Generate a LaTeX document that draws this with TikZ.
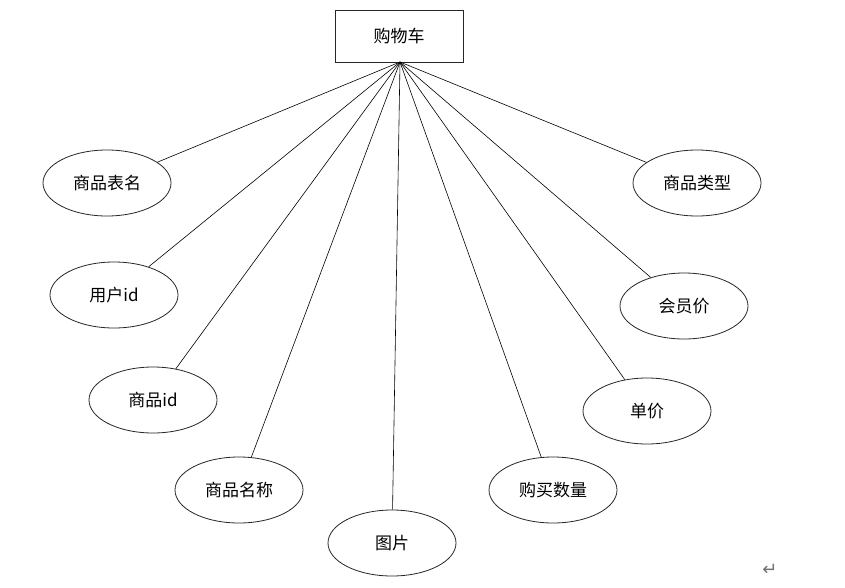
\documentclass[tikz,border=0pt]{standalone}
\usepackage{fontspec}
\usetikzlibrary{shapes.geometric}
\newfontfamily\cjk{Noto Sans CJK SC}
\newfontfamily\symfont{DejaVu Sans}
\begin{document}
\begin{tikzpicture}[x=1pt,y=-1pt,
  attr/.style={draw=black!85, ellipse, minimum width=128pt, minimum height=66pt, inner sep=0pt, line width=0.8pt, font=\cjk\fontsize{17}{20}\selectfont},
  ent/.style={draw=black!85, rectangle, minimum width=128pt, minimum height=52pt, inner sep=0pt, line width=0.9pt, font=\cjk\fontsize{17}{20}\selectfont},
  link/.style={draw=black, line width=0.6pt}]
\useasboundingbox (0,0) rectangle (845,588);
\node[ent] (cart) at (399,36) {购物车};
\coordinate (apex) at (400,62);
\node[attr] (a1) at (107,183) {商品表名};
\node[attr] (a2) at (114,295) {用户id};
\node[attr] (a3) at (153,400) {商品id};
\node[attr] (a4) at (239,490) {商品名称};
\node[attr] (a5) at (392,543) {图片};
\node[attr] (a6) at (553,490) {购买数量};
\node[attr] (a7) at (647,411) {单价};
\node[attr] (a8) at (684,306) {会员价};
\node[attr] (a9) at (697,183) {商品类型};
\foreach \n in {a1,a2,a3,a4,a5,a6,a7,a8,a9}
  \draw[link] (apex) -- (\n);
\node[text=black!55, font=\symfont\fontsize{18}{20}\selectfont] (ret) at (770,570) {↵};
\end{tikzpicture}
\end{document}
